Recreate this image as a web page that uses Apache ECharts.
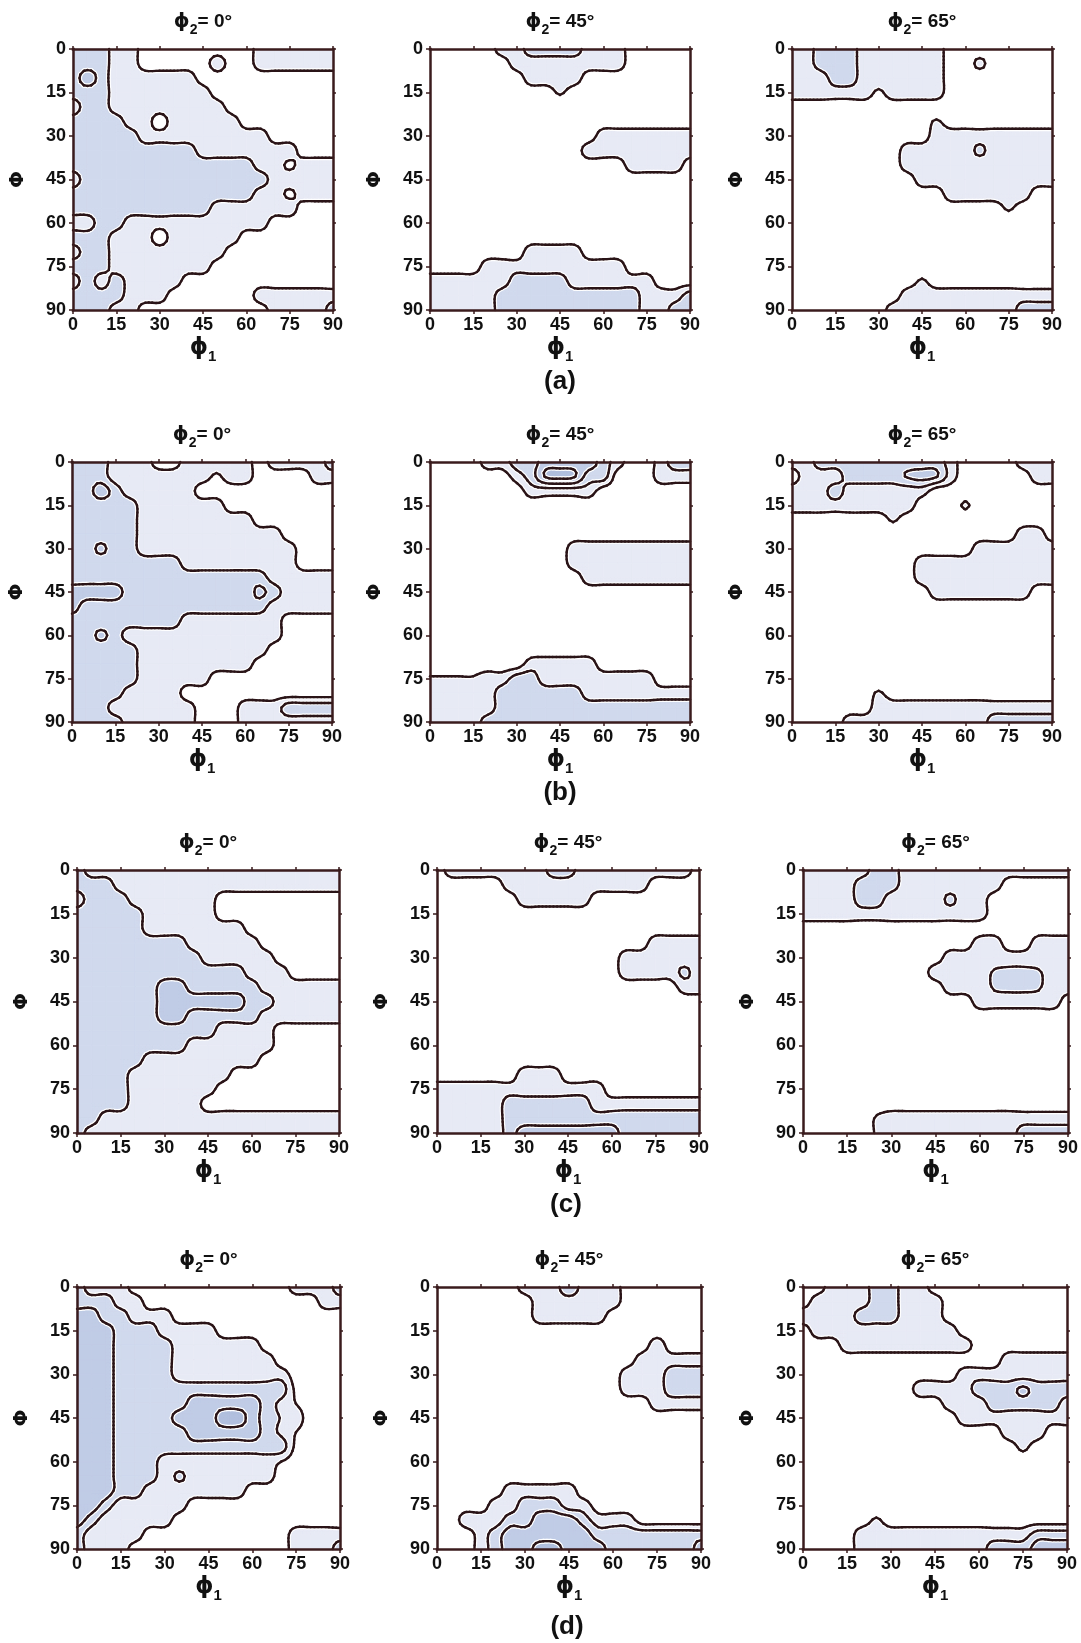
<!DOCTYPE html>
<html><head><meta charset="utf-8">
<script src="https://cdn.jsdelivr.net/npm/echarts/dist/echarts.min.js"></script>
<style>html,body{margin:0;padding:0;background:#fff}#chart{width:1081px;height:1643px}</style>
</head><body><div id="chart"></div>
<script>
// ---------- tick labels (both axes, degrees) ----------
const TICKS = [0, 15, 30, 45, 60, 75, 90];
const STEP = 5;                       // node spacing of the intensity grids (deg)
const SECTIONS = [0, 45, 65];         // phi2 of each column of sections
const ROW_LABELS = ['(a)', '(b)', '(c)', '(d)'];
const LEVELS = [0.5, 1.5, 2.5, 3.5];  // contour levels

// ---------- intensity grids: rows Phi = 0..90, columns phi1 = 0..90 (step 5) ----------
const gridA0 = ["2221100000000111111","2221100000100111111","2321111110000000000","2221111111000000000","1221111111100000000","2222110111110000000","2222211111111100000","2222222221111111000","2222222222222111111","1222222222222211111","2222222222222111111","2222222222111111000","1122111111111100000","2221110111110000000","1221111111100000000","2221111111000000000","1212111100000000000","2222111000000111111","2221100000000011112"];
const spotsA0 = [[75,40,0.3],[75,50,0.3]];
const gridA45 = ["0000011222211100000","0000001111111100000","0000000111100000000","0000000000000000000","0000000000000000000","0000000000000000000","0000000000001111111","0000000000011111111","0000000000000011110","0000000000000000000","0000000000000000000","0000000000000000000","0000000000000000000","0000000000000000000","0000000111100000000","0000111111111100000","1111112222111111000","1111122222222221112","1111122222222221122"];
const spotsA45 = [[45,15,0.6]];
const gridA65 = ["1122211111100000000","1122211111100000000","1112211111100000000","1111111111100000000","0000000000000000000","0000000000000000000","0000000000111111111","0000000011111111111","0000000011111111111","0000000001111111111","0000000000011111100","0000000000000000000","0000000000000000000","0000000000000000000","0000000000000000000","0000000000000000000","0000000000000000000","0000000011111111111","0000000111111111222"];
const spotsA65 = [[65,5,0.7],[30,15,0.35],[50,25,0.6],[65,35,1.7],[75,55,0.6],[45,80,0.6]];

const gridB0 = ["2221110011111011112","2221111111111000011","2232111110000000000","2222211111100000000","2222211111111000000","2222211111111110000","2222211111111111000","2222222211111111000","2222222222222211111","3333222222222221111","3222222222222211111","2222222211111110000","2222111111111110000","2222211111111100000","2222211111111000000","2222211111000000000","2222111100000000000","2221111110001112222","2222111110001111111"];
const spotsB0 = [[50,5,0.35],[10,30,2.7],[65,45,2.7],[10,60,2.7]];
const gridB45 = ["0000112233332100122","0000001233322000111","0000000111110000000","0000000000000000000","0000000000000000000","0000000000000000000","0000000000111111111","0000000000111111111","0000000000011111111","0000000000000000000","0000000000000000000","0000000000000000000","0000000000000000000","0000000000000000000","0000000111110000000","1111112211111111000","1111122222211111111","1111122222222222222","1111222222222222222"];
const spotsB45 = [[40,5,3.6],[45,5,3.8],[50,5,3.6],[0,75,0.6],[5,75,0.6],[10,75,0.6],[15,75,0.6]];
const gridB65 = ["1122222222210000111","0111222222210000011","1112111111000000000","1111111110000000000","0000000000000000000","0000000000000000110","0000000000000111111","0000000001111111111","0000000001111111111","0000000000111111100","0000000000000000000","0000000000000000000","0000000000000000000","0000000000000000000","0000000000000000000","0000000000000000000","0000000000000000000","0000001111111111111","0000111111111122222"];
const spotsB65 = [[40,5,2.6],[45,5,2.8],[50,5,2.6],[60,15,0.6],[35,20,0.6],[30,80,0.6]];

const gridC0 = ["2111111111111111111","2221111111111111111","1222111111000000000","2222211111000000000","2222211111110000000","2222222211111000000","2222222221111100000","2222222222221110000","2222223322222111111","2222223333332211111","2222223322222111111","2222222222111100000","2222222211111100000","2222211111111000000","2222111111100000000","2222111111000000000","2222111110000000000","2211111111111111111","2111111111111111111"];
const spotsC0 = [];
const gridC45 = ["0111111122111111110","0000011111111110000","0000001111100000000","0000000000000000000","0000000000000000000","0000000000000001111","0000000000000111111","0000000000000111111","0000000000000000011","0000000000000000000","0000000000000000000","0000000000000000000","0000000000000000000","0000000000000000000","0000001110000000000","1111111111110000000","1111122222211111111","1111122222222222222","1111123333333222222"];
const spotsC45 = [[85,35,1.7]];
const gridC65 = ["1111122111111111111","1111222111111100000","1111221111111000000","1111111111111000000","0000000000000000000","0000000000001100111","0000000000111111111","0000000001111111111","0000000000111111111","0000000000001111110","0000000000000000000","0000000000000000000","0000000000000000000","0000000000000000000","0000000000000000000","0000000000000000000","0000000000000000000","0000011111111111111","0000011111111112222"];
const spotsC65 = [[50,10,1.7],[65,35,1.6],[70,35,1.7],[75,35,1.7],[80,35,1.6],[65,40,1.6],[70,40,1.7],[75,40,1.7],[80,40,1.6],[25,85,0.6],[25,90,0.6]];

const gridD0 = ["2111000000000001112","2221100000000000011","3322111000000000000","3332221111000000000","3332222111111000000","3332222111111100000","3332222111111110000","3332222222222221000","3332222233333210000","3332222333443211000","3332222233333210000","3332222222222221000","3332221111111100000","3332221111111100000","3332211111110000000","3321111100000000000","3211111000000000000","2111100000000001111","2111000000000001112"];
const spotsD0 = [[35,65,1.7],[75,35,0.24],[75,40,0.48],[75,50,0.48],[75,55,0.24],[70,60,0.48],[70,40,1.24],[70,45,1.44],[70,50,1.3]];
const gridD45 = ["0000001112111000000","0000000111111000000","0000000111110000000","0000000000000000000","0000000000000001000","0000000000000011111","0000000000000111222","0000000000000111222","0000000000000001111","0000000000000000000","0000000000000000000","0000000000000000000","0000000000000000000","0000000000000000000","0000011111000000000","0000112221100000000","0011122333211100000","0001233333322222222","0001233443332222223"];
const spotsD45 = [[45,0,2.4]];
const gridD65 = ["0011122110000000000","0111122111000000000","1111222111000000000","0111111111100000000","0001111111110000000","0000000000000011111","0000000000011111111","0000000011112222222","0000000000111222221","0000000000011111111","0000000000000011100","0000000000000000000","0000000000000000000","0000000000000000000","0000000000000000000","0000000000000000000","0000000000000000000","0000111111111111222","0000111111111222333"];
const spotsD65 = [[75,35,2.7],[75,55,0.7],[25,80,0.6]];

const PANEL_DATA = [
  [gridA0, spotsA0], [gridA45, spotsA45], [gridA65, spotsA65],
  [gridB0, spotsB0], [gridB45, spotsB45], [gridB65, spotsB65],
  [gridC0, spotsC0], [gridC45, spotsC45], [gridC65, spotsC65],
  [gridD0, spotsD0], [gridD45, spotsD45], [gridD65, spotsD65]
];

// ---------- layout & style ----------
const BOXES = [
  [73,49,260,261],[430,49,260,261],[792,49,260,261],
  [72,462,260,260],[430,462,260,260],[792,462,260,260],
  [77,870,262,263],[437,870,262,263],[803,870,265,263],
  [77,1287,263,262],[437,1287,264,262],[803,1287,264,262]
];
const CAPTION_POS = [[560,382],[560,793],[566,1205],[567,1627]];
const FILLS = ['#e7eaf5', '#d0d9ed', '#c0cce6', '#b1bfde'];
const LINE = '#2a1417';
const FRAME = '#3a1b1d';
const FONT = '"Liberation Sans", Arial, "DejaVu Sans", sans-serif';
const GFONT = '"DejaVu Sans", "Liberation Sans", sans-serif';
const SUB = 4;   // drawing subdivision of each grid cell

function nodeValues(rows, spots) {
  const v = rows.map(r => r.split('').map(Number));
  spots.forEach(([p1, P, val]) => { v[P / STEP][p1 / STEP] = val; });
  return v;
}
// each cell carries its 4x4 neighbourhood of node values
function cellData(v) {
  const n = v.length - 1, m = v[0].length - 1;
  const cl = (a, hi) => Math.max(0, Math.min(hi, a));
  const out = [];
  for (let r = 0; r < n; r++)
    for (let c = 0; c < m; c++) {
      const item = [c * STEP, r * STEP];
      for (let dr = -1; dr <= 2; dr++)
        for (let dc = -1; dc <= 2; dc++) item.push(v[cl(r + dr, n)][cl(c + dc, m)]);
      out.push(item);
    }
  return out;
}
function cr(p0, p1, p2, p3, t) {
  return 0.5 * (2 * p1 + (p2 - p0) * t + (2 * p0 - 5 * p1 + 4 * p2 - p3) * t * t + (3 * p1 - p0 - 3 * p2 + p3) * t * t * t);
}
function square(kids, P, val, t, k) {
  const hi = val.map(v => v >= t);
  const nHi = hi.filter(Boolean).length;
  if (nHi === 0) return;
  const fs = { fill: FILLS[k], stroke: FILLS[k], lineWidth: 0.8 };
  if (nHi === 4) { kids.push({ type: 'polygon', z2: k, shape: { points: P }, style: fs }); return; }
  const cross = [];
  for (let i = 0; i < 4; i++) {
    const j = (i + 1) % 4;
    if (hi[i] !== hi[j]) {
      const f = (t - val[i]) / (val[j] - val[i]);
      cross[i] = [P[i][0] + f * (P[j][0] - P[i][0]), P[i][1] + f * (P[j][1] - P[i][1])];
    } else cross[i] = null;
  }
  const centerHi = (val[0] + val[1] + val[2] + val[3]) / 4 >= t;
  const saddle = nHi === 2 && hi[0] === hi[2];
  if (saddle && !centerHi) {
    for (let i = 0; i < 4; i++) if (hi[i]) {
      const prev = (i + 3) % 4;
      kids.push({ type: 'polygon', z2: k, shape: { points: [cross[prev], P[i], cross[i]] }, style: fs });
    }
  } else {
    const pts = [];
    for (let i = 0; i < 4; i++) { if (hi[i]) pts.push(P[i]); if (cross[i]) pts.push(cross[i]); }
    kids.push({ type: 'polygon', z2: k, shape: { points: pts }, style: fs });
  }
  const segs = [];
  if (saddle) {
    if (hi[1] !== centerHi) segs.push([cross[0], cross[1]], [cross[2], cross[3]]);
    else segs.push([cross[3], cross[0]], [cross[1], cross[2]]);
  } else {
    const c = cross.filter(Boolean);
    if (c.length === 2) segs.push(c);
  }
  segs.forEach(s => {
    kids.push({ type: 'polyline', z2: 10, shape: { points: s }, style: { stroke: '#ffffff', lineWidth: 4.8, lineCap: 'round', fill: null } });
    kids.push({ type: 'polyline', z2: 20, shape: { points: s }, style: { stroke: LINE, lineWidth: 2.4, lineCap: 'round', fill: null } });
  });
}
function renderCell(params, api) {
  const x = api.value(0), y = api.value(1);
  const K = [];
  for (let i = 0; i < 16; i++) K.push(api.value(2 + i));
  const o = api.coord([x, y]), e = api.coord([x + STEP, y + STEP]);
  const dx = (e[0] - o[0]) / SUB, dy = (e[1] - o[1]) / SUB;
  const S = [];
  let mn = Infinity, mx = -Infinity;
  for (let j = 0; j <= SUB; j++) {
    const row = [];
    for (let i = 0; i <= SUB; i++) {
      const tx = i / SUB, ty = j / SUB;
      const c0 = cr(K[0], K[1], K[2], K[3], tx), c1 = cr(K[4], K[5], K[6], K[7], tx);
      const c2 = cr(K[8], K[9], K[10], K[11], tx), c3 = cr(K[12], K[13], K[14], K[15], tx);
      const v = cr(c0, c1, c2, c3, ty);
      row.push(v); if (v < mn) mn = v; if (v > mx) mx = v;
    }
    S.push(row);
  }
  const kids = [];
  LEVELS.forEach((t, k) => {
    if (mx < t) return;
    if (mn >= t) {
      kids.push({ type: 'polygon', z2: k, shape: { points: [o, [e[0], o[1]], e, [o[0], e[1]]] },
        style: { fill: FILLS[k], stroke: FILLS[k], lineWidth: 0.8 } });
      return;
    }
    for (let j = 0; j < SUB; j++)
      for (let i = 0; i < SUB; i++) {
        const x0 = o[0] + i * dx, y0 = o[1] + j * dy;
        const P = [[x0, y0], [x0 + dx, y0], [x0 + dx, y0 + dy], [x0, y0 + dy]];
        square(kids, P, [S[j][i], S[j][i + 1], S[j + 1][i + 1], S[j + 1][i]], t, k);
      }
  });
  return { type: 'group', children: kids };
}

const grids = [], xAxes = [], yAxes = [], series = [], graphics = [];
const tickMin = TICKS[0], tickMax = TICKS[TICKS.length - 1], tickStep = TICKS[1] - TICKS[0];
const labelStyle = { color: '#111', fontSize: 18, fontWeight: 'bold', fontFamily: FONT };
const frameLine = { color: FRAME, width: 2.5, cap: 'square' };

PANEL_DATA.forEach(([g, s], i) => {
  const [L, T, W, H] = BOXES[i];
  grids.push({ left: L, top: T, width: W, height: H, containLabel: false });
  const base = { gridIndex: i, type: 'value', min: tickMin, max: tickMax, interval: tickStep, z: 10, splitLine: { show: false } };
  xAxes.push(Object.assign({}, base, {
    position: 'bottom',
    axisLine: { show: true, onZero: false, lineStyle: frameLine },
    axisTick: { show: true, length: 4, lineStyle: { color: FRAME, width: 1.5 } },
    axisLabel: Object.assign({ margin: 6 }, labelStyle),
    name: '{p|ϕ}{s|1}', nameLocation: 'middle', nameGap: 22,
    nameTextStyle: { rich: {
      p: { fontFamily: GFONT, fontWeight: 'bold', fontSize: 23, color: '#111', lineHeight: 32, verticalAlign: 'middle' },
      s: { fontFamily: FONT, fontWeight: 'bold', fontSize: 15, color: '#111', lineHeight: 15, verticalAlign: 'bottom' }
    } }
  }));
  xAxes.push(Object.assign({}, base, {
    position: 'top',
    axisLine: { show: true, onZero: false, lineStyle: frameLine },
    axisTick: { show: true, length: 3, lineStyle: { color: FRAME, width: 1.5 } },
    axisLabel: { show: false }
  }));
  yAxes.push(Object.assign({}, base, {
    inverse: true, position: 'left',
    axisLine: { show: true, onZero: false, lineStyle: frameLine },
    axisTick: { show: true, length: 4, lineStyle: { color: FRAME, width: 1.5 } },
    axisLabel: Object.assign({ margin: 7 }, labelStyle),
    name: 'Φ', nameLocation: 'middle', nameRotate: 90, nameGap: 45,
    nameTextStyle: { fontFamily: GFONT, fontWeight: 'bold', fontSize: 20, color: '#111' }
  }));
  yAxes.push(Object.assign({}, base, {
    inverse: true, position: 'right',
    axisLine: { show: true, onZero: false, lineStyle: frameLine },
    axisTick: { show: true, length: 3, lineStyle: { color: FRAME, width: 1.5 } },
    axisLabel: { show: false }
  }));
  series.push({
    type: 'custom', coordinateSystem: 'cartesian2d', xAxisIndex: 2 * i, yAxisIndex: 2 * i,
    renderItem: renderCell, data: cellData(nodeValues(g, s)), encode: { x: 0, y: 1 },
    silent: true, animation: false, z: 2
  });
  graphics.push({
    type: 'text', x: L + W / 2, y: T - 27, silent: true,
    style: {
      text: '{p|ϕ}{s|2}{t|= ' + SECTIONS[i % 3] + '°}',
      align: 'center', verticalAlign: 'middle', textAlign: 'center', textVerticalAlign: 'middle',
      rich: {
        p: { fontFamily: GFONT, fontWeight: 'bold', fontSize: 20, fill: '#111', lineHeight: 30, verticalAlign: 'middle' },
        s: { fontFamily: FONT, fontWeight: 'bold', fontSize: 14, fill: '#111', lineHeight: 14, verticalAlign: 'bottom' },
        t: { fontFamily: FONT, fontWeight: 'bold', fontSize: 19, fill: '#111', lineHeight: 30, verticalAlign: 'middle' }
      }
    }
  });
});
ROW_LABELS.forEach((lab, r) => {
  graphics.push({
    type: 'text', x: CAPTION_POS[r][0], y: CAPTION_POS[r][1], silent: true,
    style: { text: lab, font: 'bold 26px ' + FONT, fill: '#111', align: 'center', verticalAlign: 'middle', textAlign: 'center', textVerticalAlign: 'middle' }
  });
});

const chart = echarts.init(document.getElementById('chart'), null, { renderer: 'canvas', width: 1081, height: 1643 });
chart.setOption({
  backgroundColor: '#ffffff',
  animation: false,
  grid: grids, xAxis: xAxes, yAxis: yAxes, series: series, graphic: graphics
});
</script></body></html>
